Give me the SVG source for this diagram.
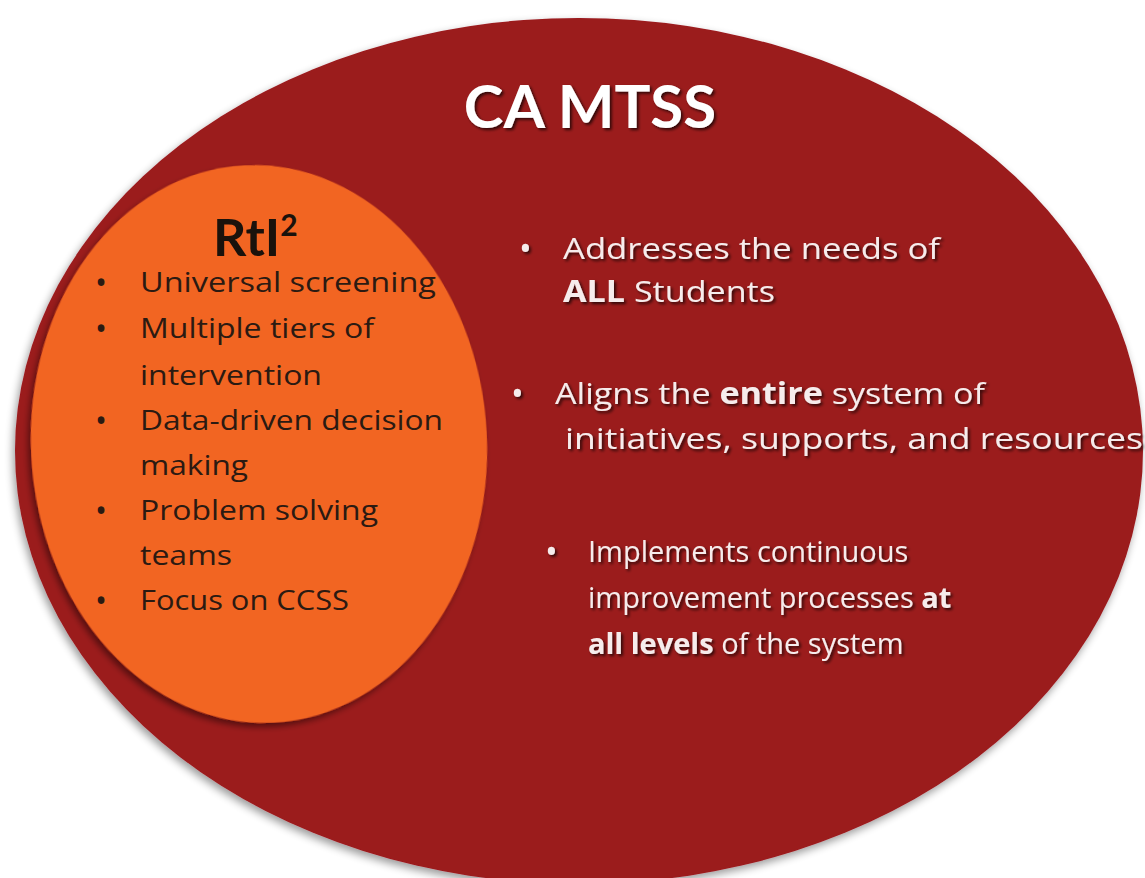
<svg xmlns="http://www.w3.org/2000/svg" width="1145" height="878" viewBox="0 0 1145 878">
<defs>
<filter id="sh" x="-10%" y="-10%" width="120%" height="120%"><feGaussianBlur in="SourceAlpha" stdDeviation="4"/><feOffset dx="-2" dy="4"/><feComponentTransfer><feFuncA type="linear" slope="0.4"/></feComponentTransfer><feMerge><feMergeNode/><feMergeNode in="SourceGraphic"/></feMerge></filter>
<filter id="osh" x="-10%" y="-10%" width="120%" height="120%"><feGaussianBlur in="SourceAlpha" stdDeviation="3"/><feOffset dx="-3" dy="4"/><feComponentTransfer><feFuncA type="linear" slope="0.45"/></feComponentTransfer><feMerge><feMergeNode/><feMergeNode in="SourceGraphic"/></feMerge></filter>
<filter id="tsh" x="-5%" y="-20%" width="110%" height="140%"><feGaussianBlur in="SourceAlpha" stdDeviation="1.5"/><feOffset dx="1.5" dy="2"/><feComponentTransfer><feFuncA type="linear" slope="0.7"/></feComponentTransfer><feMerge><feMergeNode/><feMergeNode in="SourceGraphic"/></feMerge></filter>
</defs>
<style>
.w{fill:#f6ecec;font-family:"Open Sans",Lato,sans-serif;font-size:30px}
.w3{fill:#f6ecec;font-family:"Open Sans",Lato,sans-serif;font-size:29px}
.b{fill:#2b1a12;font-family:"Open Sans",Lato,sans-serif;font-size:28px}
.bw{fill:#f6ecec;font-family:"Open Sans",Lato,sans-serif;font-size:34px}
.bb{fill:#2b1a12;font-family:"Open Sans",Lato,sans-serif;font-size:32px}
.bold{font-weight:bold}
</style>
<rect width="1145" height="878" fill="#ffffff"/>
<g id="camtss">
<ellipse cx="579" cy="451" rx="564" ry="433" fill="#9b1a1f" filter="url(#sh)"/>
<text x="590" y="128" text-anchor="middle" font-family="Lato,'Open Sans',sans-serif" font-weight="bold" font-size="60" fill="#ffffff" filter="url(#tsh)">CA MTSS</text>
<g filter="url(#tsh)">
<text class="bw" x="519" y="261">•</text>
<text class="w" x="563" y="259" textLength="377" lengthAdjust="spacingAndGlyphs">Addresses the needs of</text>
<text class="w" x="563" y="302" textLength="212" lengthAdjust="spacingAndGlyphs"><tspan class="bold">ALL</tspan> Students</text>
<text class="bw" x="511" y="406">•</text>
<text class="w" x="555" y="404" textLength="430" lengthAdjust="spacingAndGlyphs">Aligns the <tspan class="bold">entire</tspan> system of</text>
<text class="w" x="565" y="449" textLength="578" lengthAdjust="spacingAndGlyphs">initiatives, supports, and resources</text>
<text class="bw" x="545" y="564">•</text>
<text class="w3" x="588" y="562">Implements continuous</text>
<text class="w3" x="588" y="608">improvement processes <tspan class="bold">at</tspan></text>
<text class="w3" x="588" y="654"><tspan class="bold">all levels</tspan> of the system</text>
</g>
</g>
<g id="rti">
<ellipse cx="259" cy="444" rx="228" ry="279" fill="#f26522" transform="rotate(-3 259 444)" filter="url(#osh)"/>
<text x="213" y="256" font-family="Lato,'Open Sans',sans-serif" font-weight="bold" font-size="52" fill="#1a120c">RtI<tspan font-size="30" dy="-20">2</tspan></text>
<text class="bb" x="95" y="294">•</text><text class="b" x="140" y="292" textLength="296" lengthAdjust="spacingAndGlyphs">Universal  screening</text>
<text class="bb" x="95" y="340">•</text><text class="b" x="140" y="338" textLength="234" lengthAdjust="spacingAndGlyphs">Multiple tiers of</text>
<text class="b" x="140" y="385" textLength="182" lengthAdjust="spacingAndGlyphs">intervention</text>
<text class="bb" x="95" y="432">•</text><text class="b" x="140" y="430" textLength="303" lengthAdjust="spacingAndGlyphs">Data-driven decision</text>
<text class="b" x="140" y="475" textLength="108" lengthAdjust="spacingAndGlyphs">making</text>
<text class="bb" x="95" y="522">•</text><text class="b" x="140" y="520" textLength="238" lengthAdjust="spacingAndGlyphs">Problem solving</text>
<text class="b" x="140" y="565" textLength="92" lengthAdjust="spacingAndGlyphs">teams</text>
<text class="bb" x="95" y="612">•</text><text class="b" x="140" y="610" textLength="209" lengthAdjust="spacingAndGlyphs">Focus on CCSS</text>
</g>
</svg>
